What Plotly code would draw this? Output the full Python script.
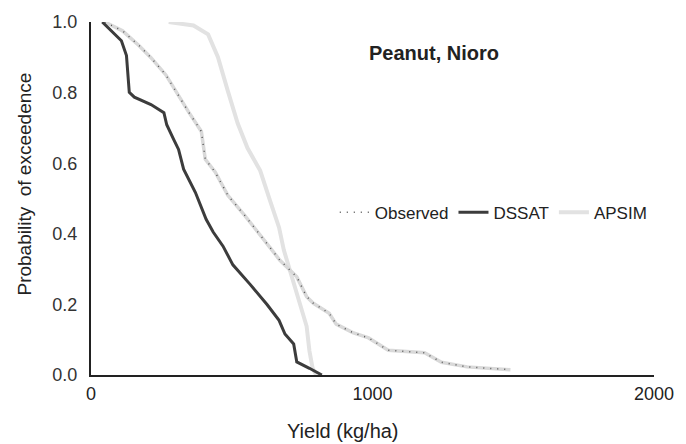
import plotly.graph_objects as go

# Observed exceedance curve (yield kg/ha, probability)
obs_yield = [49, 112, 171, 213, 266, 304, 346, 392, 406, 441, 486, 545, 591, 636, 671,
             731, 766, 790, 846, 871, 930, 986, 1056, 1185, 1245, 1336, 1490]
obs_prob = [1.0, 0.975, 0.933, 0.899, 0.85, 0.80, 0.746, 0.69, 0.611, 0.575, 0.509, 0.453,
            0.408, 0.361, 0.325, 0.278, 0.222, 0.203, 0.175, 0.144, 0.12, 0.105, 0.07,
            0.063, 0.036, 0.023, 0.015]

# DSSAT simulated
dssat_yield = [40, 108, 126, 136, 154, 213, 259, 269, 294, 311, 329, 371, 409, 434, 469,
               504, 566, 626, 668, 689, 720, 731, 776, 820]
dssat_prob = [1.0, 0.947, 0.905, 0.801, 0.787, 0.766, 0.743, 0.709, 0.667, 0.639, 0.583,
              0.517, 0.441, 0.405, 0.365, 0.312, 0.256, 0.199, 0.155, 0.116, 0.088, 0.037,
              0.019, 0.0]

# APSIM simulated
apsim_yield = [276, 364, 416, 451, 486, 521, 556, 601, 636, 668, 685, 713, 741, 766, 776,
               787, 800]
apsim_prob = [1.0, 0.99, 0.965, 0.9, 0.805, 0.713, 0.643, 0.579, 0.494, 0.418, 0.354,
              0.279, 0.208, 0.138, 0.068, 0.02, 0.0]

x_ticks = [0, 1000, 2000]
y_ticks = [0.0, 0.2, 0.4, 0.6, 0.8, 1.0]
y_tick_text = ["0.0", "0.2", "0.4", "0.6", "0.8", "1.0"]

fig = go.Figure()
fig.add_trace(go.Scatter(x=apsim_yield, y=apsim_prob, mode="lines", name="APSIM",
                         line=dict(color="#e2e2e2", width=4), legendrank=3))
fig.add_trace(go.Scatter(x=obs_yield, y=obs_prob, mode="lines", showlegend=False,
                         line=dict(color="#d9d9d9", width=3.5)))
fig.add_trace(go.Scatter(x=obs_yield, y=obs_prob, mode="lines", name="Observed",
                         line=dict(color="#555555", width=1.5, dash="1px,6px"), legendrank=1))
fig.add_trace(go.Scatter(x=dssat_yield, y=dssat_prob, mode="lines", name="DSSAT",
                         line=dict(color="#3c3c3c", width=3), legendrank=2))

fig.update_layout(
    width=686, height=444,
    margin=dict(l=91, r=25, t=21, b=69),
    paper_bgcolor="white", plot_bgcolor="white",
    font=dict(family="Arial, Liberation Sans, sans-serif", color="#222222"),
    showlegend=True,
    legend=dict(orientation="h", x=0.433, y=0.46, xanchor="left", yanchor="middle",
                font=dict(size=17, color="#222222"), bgcolor="rgba(0,0,0,0)",
                traceorder="normal", itemwidth=30),
    xaxis=dict(range=[0, 2000], tickvals=x_ticks, showgrid=False, zeroline=False,
               showline=True, linecolor="#222222", linewidth=2, ticks="",
               tickfont=dict(size=18, color="#222222"), ticklabelstandoff=1),
    yaxis=dict(range=[0, 1.0], tickvals=y_ticks, ticktext=y_tick_text, showgrid=False,
               zeroline=False, showline=True, linecolor="#222222", linewidth=2, ticks="",
               tickfont=dict(size=18, color="#333333"), ticklabelstandoff=8),
    annotations=[
        dict(text="<b>Peanut, Nioro</b>", x=0.61, y=0.912, xref="paper", yref="paper",
             xanchor="center", yanchor="middle",
             showarrow=False, font=dict(size=20, color="#222222")),
        dict(text="Yield (kg/ha)", x=0.447, y=-0.158, xref="paper", yref="paper",
             xanchor="center", yanchor="middle",
             showarrow=False, font=dict(size=20, color="#222222")),
        dict(text="Probability  of exceedence", x=-0.1175, y=0.542, xref="paper",
             yref="paper", showarrow=False, textangle=-90,
             xanchor="center", yanchor="middle",
             font=dict(size=19, color="#222222")),
    ],
)

fig.write_html("out.html", config={"displayModeBar": False},
               post_script="document.body.style.margin='0';document.body.style.padding='0';")
